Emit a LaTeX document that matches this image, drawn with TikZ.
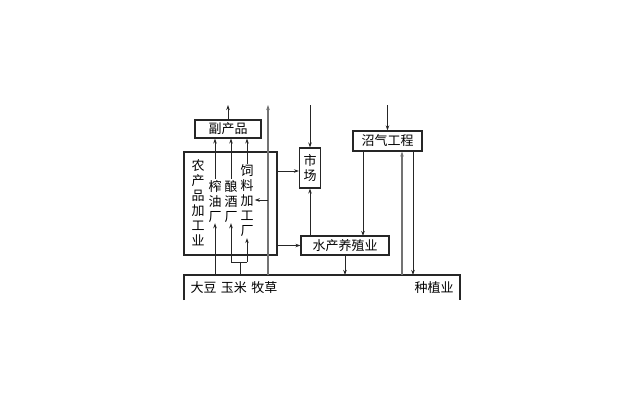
\documentclass[tikz,border=0pt]{standalone}
\usepackage{fontspec}
\setmainfont{Noto Sans CJK SC}
\usetikzlibrary{arrows.meta}
\begin{document}
\begin{tikzpicture}[
    x=1pt, y=-1pt,
    box/.style={
      rectangle, draw=black!85, line width=1.1pt,
      inner sep=0pt, font=\fontsize{13}{15}\selectfont
    },
    vtext/.style={
      align=center, inner sep=1pt,
      font=\fontsize{13}{15}\selectfont
    },
    label/.style={inner sep=0pt, font=\fontsize{13}{15}\selectfont},
    link/.style={line width=0.9pt, black!85},
    flow/.style={link, -{Stealth[length=5pt,width=3.5pt]}},
    trunk/.style={flow, black!55, line width=1.1pt}
  ]
    \useasboundingbox (0,0) rectangle (640,400);

    % boxes
    \node[box, minimum width=66pt, minimum height=18pt] (fuchan) at (228,129) {副产品};
    \node[box, minimum width=93pt, minimum height=103pt] (jiagong) at (230.5,203.5) {};
    \node[box, minimum width=21pt, minimum height=40pt, align=center] (shichang) at (310,168) {市\\场};
    \node[box, minimum width=88pt, minimum height=19pt] (shuichan) at (345,245.5) {水产养殖业};
    \node[box, minimum width=69pt, minimum height=20pt] (zhaoqi) at (387.5,141) {沼气工程};

    % text inside the processing box
    \node[vtext] (nongchan) at (198,203) {农\\产\\品\\加\\工\\业};
    \node[vtext] (zhayou)   at (215,201) {榨\\油\\厂};
    \node[vtext] (niangjiu) at (231,201) {酿\\酒\\厂};
    \node[vtext] (siliao)   at (247,201) {饲\\料\\加\\工\\厂};

    % planting (open at the bottom)
    \coordinate (zl) at (184,300);
    \coordinate (zr) at (460,300);
    \coordinate (ztop) at (0,275);
    \draw[box] (zl) -- (zl |- ztop) -- (zr |- ztop) -- (zr);
    \node[label] (crops) at (234,288) {大豆\,\,玉米\,\,牧草};
    \node[label] (zhongzhi) at (434,288) {种植业};

    % free ends at the top
    \coordinate (top) at (0,105);

    % processing to by-products
    \draw[flow] (zhayou.north) -- (zhayou.north |- fuchan.south);
    \draw[flow] (niangjiu.north) -- (niangjiu.north |- fuchan.south);
    \draw[flow] (siliao.north) -- (siliao.north |- fuchan.south);
    \draw[flow] (fuchan.north) -- (fuchan.north |- top);

    % crops into the factories
    \draw[flow] (zhayou.south |- ztop) -- (zhayou.south);
    \coordinate (fork) at (240,262);
    \draw[link] (fork |- ztop) -- (fork);
    \draw[link] (niangjiu.south |- fork) -- (siliao.south |- fork);
    \draw[flow] (niangjiu.south |- fork) -- (niangjiu.south);
    \draw[flow] (siliao.south |- fork) -- (siliao.south);

    % long trunk
    \coordinate (trunk) at (268,200);
    \draw[trunk] (trunk |- ztop) -- (trunk |- top);
    \draw[flow] (trunk) -- (siliao.east |- trunk);

    % to market and fish farming
    \draw[flow] (jiagong.east |- 0,171) -- (shichang.west |- 0,171);
    \draw[flow] (jiagong.east |- shuichan.west) -- (shuichan.west);
    \draw[flow] (shichang.north |- top) -- (shichang.north);
    \draw[flow] (shuichan.north -| shichang.south) -- (shichang.south);
    \draw[flow] (shuichan.south) -- (shuichan.south |- ztop);

    % biogas
    \draw[flow] (zhaoqi.north |- top) -- (zhaoqi.north);
    \draw[flow] (363,151) -- (363,236);
    \draw[trunk] (402,275) -- (zhaoqi.south -| 402,0);
    \draw[flow] (zhaoqi.south -| 413,0) -- (413,275);
  \end{tikzpicture}
\end{document}
